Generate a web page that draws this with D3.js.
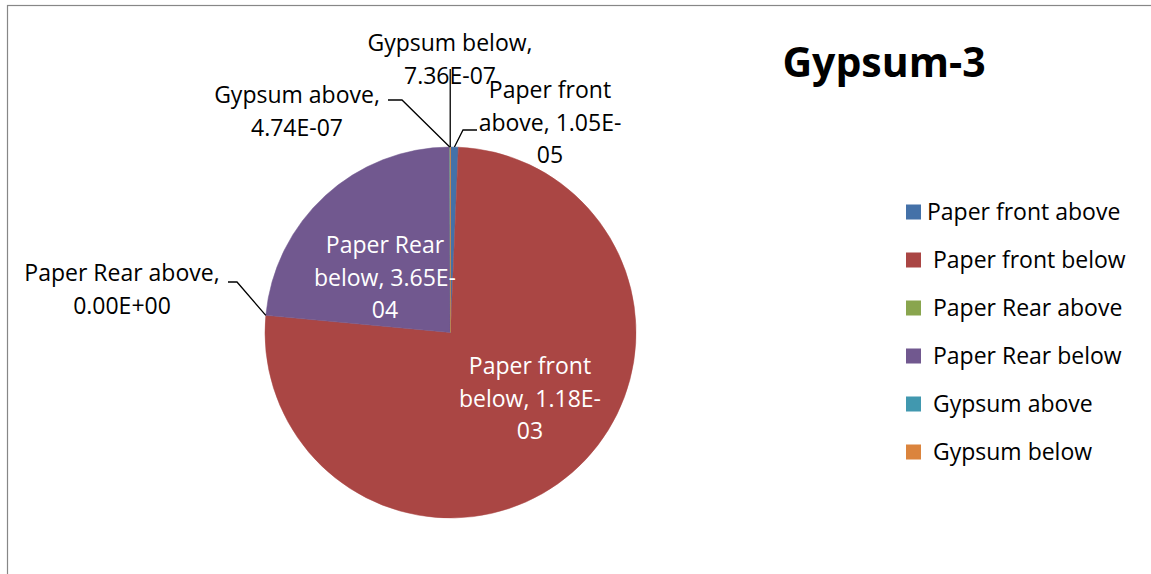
<!DOCTYPE html>
<html>
<head>
<meta charset="utf-8">
<script src="https://cdn.jsdelivr.net/npm/d3@7"></script>
<style>
  html, body { margin: 0; padding: 0; background: #fff; }
  svg { display: block; }
  text { font-family: "Open Sans", Lato, sans-serif; }
</style>
</head>
<body>
<svg id="chart" width="1151" height="574"></svg>
<script>
// Slice categories in drawing order (clockwise from 12 o'clock)
const categories = ["Paper front above", "Paper front below", "Paper Rear above",
                    "Paper Rear below", "Gypsum above", "Gypsum below"];
const values = [1.05e-5, 1.18e-3, 0, 3.65e-4, 4.74e-7, 7.36e-7];
const valueLabels = ["1.05E-05", "1.18E-03", "0.00E+00", "3.65E-04", "4.74E-07", "7.36E-07"];
const colors = ["#4471A8", "#AA4644", "#89A54E", "#71588F", "#4198AF", "#DB843D"];
const legendLabels = ["Paper front above", " Paper front below", " Paper Rear above",
                      " Paper Rear below", " Gypsum above", " Gypsum below"];
const title = "Gypsum-3";

const svg = d3.select("#chart");
const W = 1151, H = 574;

// chart frame (extends past the right and bottom edges)
svg.append("rect")
  .attr("x", 7.5).attr("y", 5.5)
  .attr("width", W + 10).attr("height", H + 10)
  .attr("fill", "#fff").attr("stroke", "#878787").attr("stroke-width", 1.2);

// title
svg.append("text")
  .attr("x", 884).attr("y", 77)
  .attr("text-anchor", "middle")
  .attr("font-size", 41).attr("font-weight", "bold")
  .attr("fill", "#000")
  .text(title);

// pie
const cx = 450.5, cy = 332.5, R = 185.5;
const data = categories.map((c, i) => ({ name: c, value: values[i], label: valueLabels[i], color: colors[i] }));
const pie = d3.pie().sort(null).value(d => d.value);
const arcs = pie(data);
const arc = d3.arc().innerRadius(0).outerRadius(R);

const g = svg.append("g").attr("transform", `translate(${cx},${cy})`);
g.selectAll("path.slice")
  .data(arcs)
  .join("path")
  .attr("class", "slice")
  .attr("d", arc)
  .attr("fill", d => d.data.color)
  .attr("stroke", d => d.data.value > 0 ? d.data.color : "none")
  .attr("stroke-width", 0.5);

// point on the rim at the slice's middle angle
function rim(d, r = R) {
  const a = (d.startAngle + d.endAngle) / 2;
  return [cx + r * Math.sin(a), cy - r * Math.cos(a)];
}

const labelSize = 23;
function multiline(x, y, lines, anchor, fill) {
  const t = svg.append("text")
    .attr("x", x).attr("y", y)
    .attr("text-anchor", anchor)
    .attr("font-size", labelSize)
    .attr("fill", fill);
  lines.forEach((ln, i) => {
    t.append("tspan").attr("x", x).attr("dy", i === 0 ? 0 : 32.5).text(ln);
  });
}

// inside labels (white)
multiline(385, 253, ["Paper Rear", "below, " + "3.65E-", "04"], "middle", "#fff");
multiline(530, 374, ["Paper front", "below, " + "1.18E-", "03"], "middle", "#fff");

// outside labels with leader lines
const lead = svg.append("g").attr("fill", "none").attr("stroke", "#000").attr("stroke-width", 1.3);

// Gypsum below
multiline(450, 51, ["Gypsum below,", arcs[5].data.label], "middle", "#000");
{
  const p = rim(arcs[5]);
  lead.append("path").attr("d", d3.line()([[p[0], 69], p]));
}
// Gypsum above
multiline(297, 103, ["Gypsum above,", arcs[4].data.label], "middle", "#000");
{
  const p = rim(arcs[4]);
  lead.append("path").attr("d", d3.line()([[388, 100], [402, 100], p]));
}
// Paper front above
multiline(550, 98, ["Paper front", "above, " + "1.05E-", "05"], "middle", "#000");
{
  const p = rim(arcs[0]);
  lead.append("path").attr("d", d3.line()([[477, 130], [463, 130], p]));
}
// Paper Rear above
multiline(122, 281, ["Paper Rear above,", arcs[2].data.label], "middle", "#000");
{
  const p = rim(arcs[2]);
  lead.append("path").attr("d", d3.line()([[228, 282], [237, 282], p]));
}

// legend
const leg = svg.append("g");
const rowY = d3.scalePoint().domain(categories).range([212, 452]);
categories.forEach((c, i) => {
  const y = rowY(c);
  leg.append("rect").attr("x", 906).attr("y", y - 7.5).attr("width", 15).attr("height", 15).attr("fill", colors[i]);
  leg.append("text").attr("x", 927).attr("y", y + 8)
    .attr("font-size", labelSize).attr("fill", "#000")
    .attr("xml:space", "preserve").style("white-space", "pre")
    .text(legendLabels[i]);
});
</script>
</body>
</html>
